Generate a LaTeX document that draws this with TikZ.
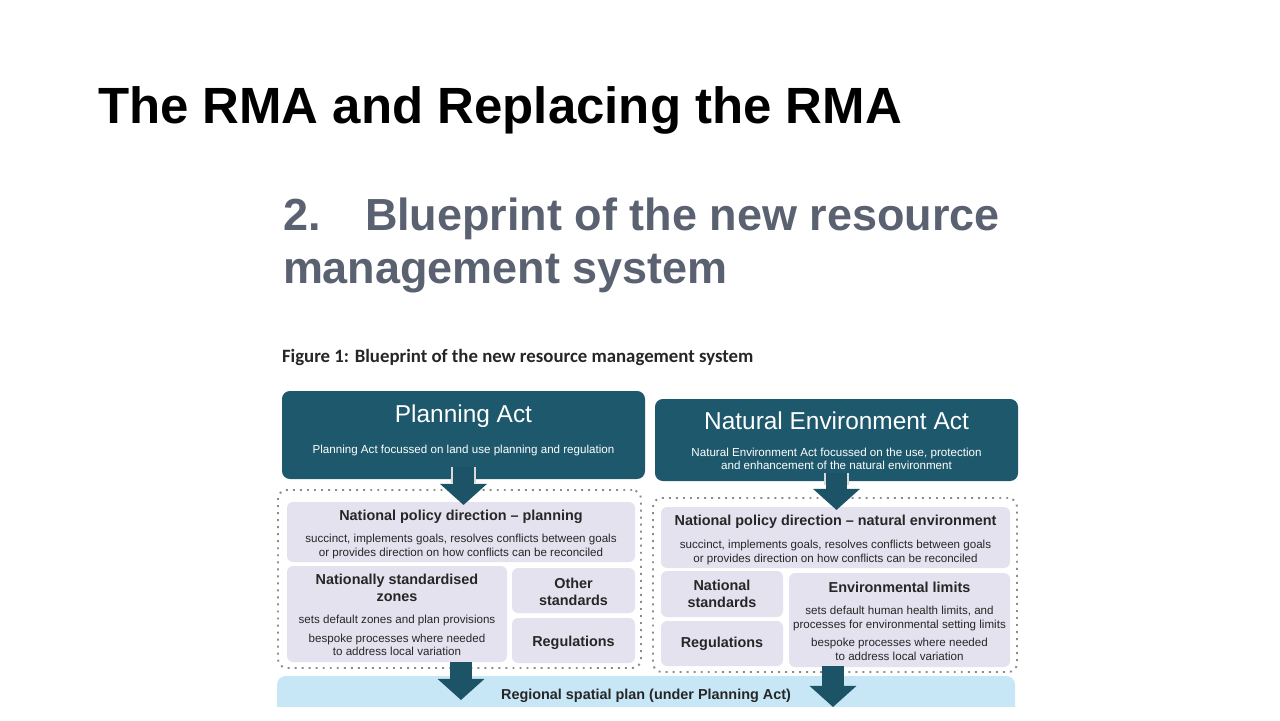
\documentclass[tikz,border=0pt]{standalone}
\usepackage{fontspec}
\setmainfont{Liberation Sans}
\newfontfamily\calib{Carlito}
\usetikzlibrary{arrows.meta,calc,fit}
\definecolor{actteal}{HTML}{1E586C}
\definecolor{arrowteal}{HTML}{1C5366}
\definecolor{lav}{HTML}{E5E2F0}
\definecolor{rpblue}{HTML}{C8E7F6}
\definecolor{dotgray}{HTML}{8C8C8C}
\definecolor{txtdark}{HTML}{262626}
\definecolor{headgrey}{HTML}{5A6170}
\tikzset{
  txt/.style={anchor=base, text=txtdark},
  hd/.style={txt, font=\bfseries\fontsize{8.2}{9.8}\selectfont},
  bd/.style={txt, font=\fontsize{6.6}{7.9}\selectfont},
  actt/.style={anchor=base, text=white, font=\fontsize{13.9}{16}\selectfont},
  acts/.style={anchor=base, text=white, font=\fontsize{6.6}{7.9}\selectfont},
  actbox/.style={fill=actteal, rounded corners=4.5pt},
  lavbox/.style={fill=lav, rounded corners=3.5pt},
  dotbox/.style={draw=dotgray, line width=1.1pt, dash pattern=on 1.1pt off 2.9pt, rounded corners=5pt},
  blockarr/.style={draw=arrowteal, line width=12.5pt, -{Triangle[length=12pt,width=26pt]}},
  arredge/.style={draw=white!85!black, line width=14.5pt},
  headtxt/.style={anchor=base west, text=headgrey, font=\bfseries\fontsize{25.6}{30}\selectfont}
}
\begin{document}
\begin{tikzpicture}[x=0.02cm,y=-0.02cm, every node/.style={inner sep=0pt, outer sep=0pt}]
\useasboundingbox[fill=white] (0,0) rectangle (1280,720);

% slide title
\node[anchor=base west, font=\bfseries\fontsize{29}{34}\selectfont] (title) at (98,123) {The RMA and Replacing the RMA};

% scanned heading
\node[headtxt] (h1a) at (283,230) {2.};
\node[headtxt] (h1b) at (365,230) {Blueprint of the new resource};
\node[headtxt] (h2) at (283,283) {management system};
\node[anchor=base west, text=black!85, font=\calib\bfseries\fontsize{10.7}{12.5}\selectfont] (cap) at (282,362) {Figure 1: Blueprint of the new resource management system};

% regional spatial plan (cropped at bottom)
\begin{scope}
\clip (0,0) rectangle (1280,706);
\node[fill=rpblue, rounded corners=5pt, fit={(277,676) (1015,716)}] (rp) {};
\end{scope}
\node[hd] (rpt) at (646,699) {Regional spatial plan (under Planning Act)};

% dotted groups
\node[dotbox, fit={(278,490) (641,668)}] (lg) {};
\node[dotbox, fit={(653,498) (1017,672)}] (rg) {};

% act boxes
\node[actbox, fit={(282,391) (645,479)}] (pa) {};
\node[actbox, fit={(655,399) (1018,481)}] (ne) {};
\node[actt] (pat) at (463.5,422) {Planning Act};
\node[acts] (pas) at (463.5,453) {Planning Act focussed on land use planning and regulation};
\node[actt] (net) at (836.5,429) {Natural Environment Act};
\node[acts] (nes1) at (836.5,456) {Natural Environment Act focussed on the use, protection};
\node[acts] (nes2) at (836.5,469) {and enhancement of the natural environment};

% left group boxes
\node[lavbox, fit={(287,502) (635,562)}] (np) {};
\node[lavbox, fit={(287,566) (507,662)}] (nz) {};
\node[lavbox, fit={(512,568) (635,613)}] (os) {};
\node[lavbox, fit={(512,618) (635,663)}] (rg1) {};
\node[hd] (npt) at (461,520) {National policy direction – planning};
\node[bd] (npb1) at (461,542) {succinct, implements goals, resolves conflicts between goals};
\node[bd] (npb2) at (461,556) {or provides direction on how conflicts can be reconciled};
\node[hd] (nzt1) at (397,584) {Nationally standardised};
\node[hd] (nzt2) at (397,601) {zones};
\node[bd] (nzb1) at (397,623) {sets default zones and plan provisions};
\node[bd] (nzb2) at (397,642) {bespoke processes where needed};
\node[bd] (nzb3) at (397,655) {to address local variation};
\node[hd] (ost1) at (573.5,588) {Other};
\node[hd] (ost2) at (573.5,605) {standards};
\node[hd] (rg1t) at (573.5,646) {Regulations};

% right group boxes
\node[lavbox, fit={(661,507) (1010,568)}] (nn) {};
\node[lavbox, fit={(661,571) (783,617)}] (ns) {};
\node[lavbox, fit={(661,621) (783,666)}] (rg2) {};
\node[lavbox, fit={(789,573) (1010,667)}] (el) {};
\node[hd] (nnt) at (835.5,525) {National policy direction – natural environment};
\node[bd] (nnb1) at (835.5,548) {succinct, implements goals, resolves conflicts between goals};
\node[bd] (nnb2) at (835.5,562) {or provides direction on how conflicts can be reconciled};
\node[hd] (nst1) at (722,590) {National};
\node[hd] (nst2) at (722,607) {standards};
\node[hd] (rg2t) at (722,647) {Regulations};
\node[hd] (elt) at (899.5,592) {Environmental limits};
\node[bd] (elb1) at (899.5,614) {sets default human health limits, and};
\node[bd] (elb2) at (899.5,628) {processes for environmental setting limits};
\node[bd] (elb3) at (899.5,646) {bespoke processes where needed};
\node[bd] (elb4) at (899.5,660) {to address local variation};

% block arrows
\draw[arredge] ($(pa.south)+(0,-12)$) -- ($(pa.south)+(0,4)$);
\draw[blockarr] ($(pa.south)+(0,-12)$) -- ($(pa.south |- lg.north)+(0,15)$);
\draw[arredge] ($(ne.south)+(0,-8)$) -- ($(ne.south)+(0,4)$);
\draw[blockarr] ($(ne.south)+(0,-8)$) -- ($(ne.south |- rg.north)+(0,12)$);
\draw[blockarr] ($(lg.south)+(1.5,-6)$) -- ($(lg.south |- rp.north)+(1.5,24)$);
\draw[blockarr] ($(rg.south)+(-2,-6)$) -- ($(rg.south |- rp.north)+(-2,31)$);
\end{tikzpicture}
\end{document}
